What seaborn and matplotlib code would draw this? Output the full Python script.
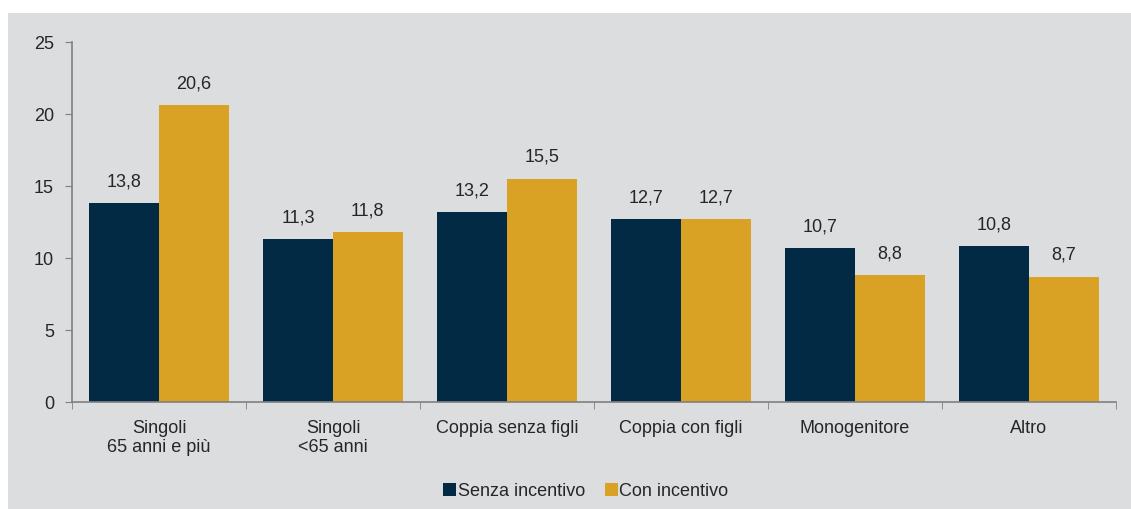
import matplotlib
matplotlib.use("Agg")
import matplotlib.pyplot as plt
from matplotlib.patches import Rectangle
import pandas as pd
import seaborn as sns

sns.set_style("white")
plt.rcParams['font.family'] = ['Liberation Sans', 'DejaVu Sans']

categorie = ["Singoli\n65 anni e più", "Singoli\n<65 anni", "Coppia senza figli",
             "Coppia con figli", "Monogenitore", "Altro"]
senza_incentivo = [13.8, 11.3, 13.2, 12.7, 10.7, 10.8]
con_incentivo = [20.6, 11.8, 15.5, 12.7, 8.8, 8.7]
serie = ["Senza incentivo", "Con incentivo"]
colori = ["#032A45", "#D9A224"]

df = pd.DataFrame({
    "Categoria": categorie * 2,
    "Valore": senza_incentivo + con_incentivo,
    "Serie": [serie[0]] * len(categorie) + [serie[1]] * len(categorie),
})

fs = 13
fig = plt.figure(figsize=(11.31, 5.10), dpi=100)
fig.patch.set_facecolor("white")
# grey panel behind the chart
fig.patches.append(Rectangle((8 / 1131, 0), 1 - 8 / 1131, 496 / 510,
                             transform=fig.transFigure, facecolor="#DCDDDE",
                             edgecolor="none", zorder=-10))

ax = fig.add_axes([72 / 1131, 107 / 510, (1116 - 72) / 1131, 360 / 510])
ax.set_zorder(5)
ax.set_facecolor("none")
sns.barplot(data=df, x="Categoria", y="Valore", hue="Serie", palette=colori,
            width=0.8, saturation=1, linewidth=0, edgecolor="none", ax=ax, legend=True)

for cont in ax.containers:
    labels = [f"{v:.1f}".replace(".", ",") for v in cont.datavalues]
    ax.bar_label(cont, labels=labels, padding=10, fontsize=fs, color="#262626")

ax.set_ylim(0, 25)
ax.set_xlim(-0.5, len(categorie) - 0.5)
ax.set_yticks(range(0, 26, 5))
ax.set_xlabel("")
ax.set_ylabel("")
ax.set_xticks(range(len(categorie)))
ax.set_xticklabels(categorie)
ax.set_xticks([i - 0.5 for i in range(len(categorie) + 1)], minor=True)
ax.tick_params(axis="x", which="major", length=0, pad=12, labelsize=fs, labelcolor="#262626")
ax.tick_params(axis="x", which="minor", length=5, color="#808080", direction="out", bottom=True)
ax.tick_params(axis="y", length=5, color="#808080", direction="out", left=True,
               pad=8, labelsize=fs, labelcolor="#262626")
for s in ["top", "right"]:
    ax.spines[s].set_visible(False)
for s in ["left", "bottom"]:
    ax.spines[s].set_color("#808080")
    ax.spines[s].set_linewidth(1.2)

leg = ax.legend(loc="center", bbox_to_anchor=(586 / 1131, 18 / 510),
                bbox_transform=fig.transFigure, ncol=2, frameon=False,
                fontsize=fs, handlelength=0.7, handleheight=0.7,
                handletextpad=0.1, columnspacing=1.1)
for t in leg.get_texts():
    t.set_color("#262626")

fig.savefig("out.png", dpi=100)
